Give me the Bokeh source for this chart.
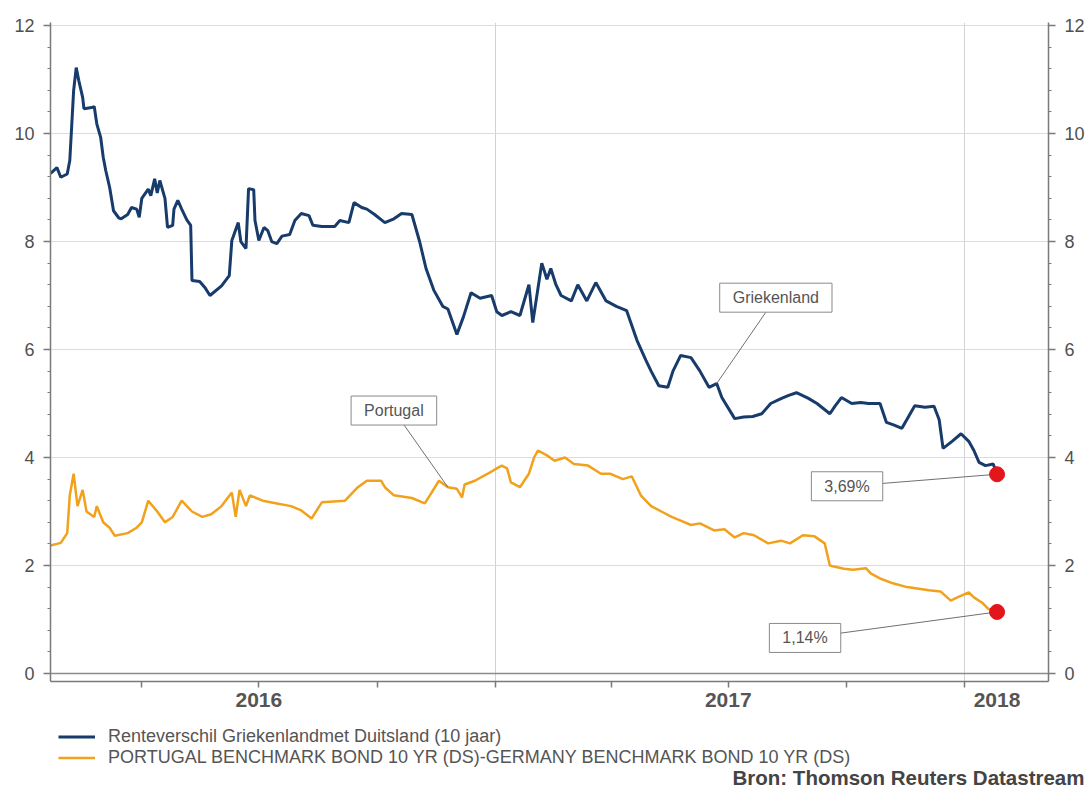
import pandas as pd
from bokeh.plotting import figure
from bokeh.layouts import column
from bokeh.models import (Range1d, FixedTicker, LinearAxis, Label, Legend,
                          LegendItem, Span)
from bokeh.embed import file_html
from bokeh.resources import INLINE

# ---------------- data ----------------
greece_dates = [
    "2016-01-21", "2016-01-26", "2016-01-29", "2016-02-03", "2016-02-05", "2016-02-08",
    "2016-02-10", "2016-02-12", "2016-02-15", "2016-02-16", "2016-02-22", "2016-02-24",
    "2016-02-26", "2016-02-29", "2016-03-02", "2016-03-04", "2016-03-07", "2016-03-10",
    "2016-03-14", "2016-03-16", "2016-03-21", "2016-03-24", "2016-03-28", "2016-03-30",
    "2016-04-01", "2016-04-06", "2016-04-08", "2016-04-11", "2016-04-13", "2016-04-15",
    "2016-04-19", "2016-04-21", "2016-04-25", "2016-04-26", "2016-04-29", "2016-05-02",
    "2016-05-06", "2016-05-09", "2016-05-10", "2016-05-16", "2016-05-20", "2016-05-24",
    "2016-06-02", "2016-06-08", "2016-06-10", "2016-06-15", "2016-06-17", "2016-06-21",
    "2016-06-23", "2016-06-27", "2016-06-28", "2016-07-01", "2016-07-05", "2016-07-08",
    "2016-07-11", "2016-07-15", "2016-07-19", "2016-07-25", "2016-07-29", "2016-08-03",
    "2016-08-09", "2016-08-12", "2016-08-19", "2016-08-29", "2016-09-02", "2016-09-09",
    "2016-09-13", "2016-09-19", "2016-09-23", "2016-09-29", "2016-10-07", "2016-10-14",
    "2016-10-20", "2016-10-28", "2016-11-03", "2016-11-08", "2016-11-14", "2016-11-21",
    "2016-11-25", "2016-12-02", "2016-12-07", "2016-12-13", "2016-12-20", "2016-12-29",
    "2017-01-02", "2017-01-06", "2017-01-13", "2017-01-20",
    "2017-01-27", "2017-01-30", "2017-02-06", "2017-02-10", "2017-02-13", "2017-02-17",
    "2017-02-21", "2017-03-01", "2017-03-06", "2017-03-13", "2017-03-20", "2017-03-28",
    "2017-04-05", "2017-04-13", "2017-04-21", "2017-04-28", "2017-05-02", "2017-05-08",
    "2017-05-15", "2017-05-19", "2017-05-25", "2017-06-02", "2017-06-09", "2017-06-16",
    "2017-06-22", "2017-06-26", "2017-07-06", "2017-07-13", "2017-07-20", "2017-07-27",
    "2017-08-03", "2017-08-11", "2017-08-17", "2017-08-23", "2017-09-01", "2017-09-08",
    "2017-09-18", "2017-09-22", "2017-09-27", "2017-10-05", "2017-10-12", "2017-10-18",
    "2017-10-27", "2017-11-01", "2017-11-07", "2017-11-13", "2017-11-23", "2017-12-01",
    "2017-12-08", "2017-12-12", "2017-12-15", "2017-12-22", "2017-12-29", "2018-01-04",
    "2018-01-08", "2018-01-12", "2018-01-17", "2018-01-23", "2018-01-26",
]
greece_values = [
    9.26, 9.37, 9.19, 9.25, 9.5, 10.8,
    11.22, 10.98, 10.67, 10.46, 10.48, 10.5,
    10.18, 9.93, 9.56, 9.31, 9.0, 8.57,
    8.44, 8.42, 8.5, 8.63, 8.6, 8.45,
    8.8, 8.97, 8.85, 9.16, 8.9, 9.13,
    8.8, 8.26, 8.3, 8.6, 8.76, 8.6,
    8.4, 8.3, 7.28, 7.26, 7.15, 7.0,
    7.18, 7.37, 8.02, 8.35, 8.0, 7.87,
    8.98, 8.96, 8.39, 8.02, 8.26, 8.2,
    8.0, 7.96, 8.1, 8.13, 8.39, 8.52,
    8.48, 8.3, 8.28, 8.28, 8.39, 8.35,
    8.72, 8.63, 8.6, 8.5, 8.35, 8.42,
    8.52, 8.5, 8.0, 7.5, 7.1, 6.8,
    6.75, 6.28, 6.6, 7.05, 6.95, 7.0,
    6.7, 6.63, 6.7, 6.63,
    7.2, 6.5, 7.6, 7.3, 7.5, 7.2,
    7.0, 6.9, 7.2, 6.9, 7.24, 6.9,
    6.8, 6.72, 6.17, 5.8, 5.6, 5.33,
    5.3, 5.6, 5.89, 5.85, 5.6, 5.3,
    5.37, 5.11, 4.72, 4.75, 4.76, 4.81,
    5.0, 5.09, 5.15, 5.2, 5.1, 5.0,
    4.81, 4.95, 5.11, 5.0, 5.02, 5.0,
    5.0, 4.65, 4.6, 4.54, 4.96, 4.93,
    4.95, 4.7, 4.17, 4.3, 4.44, 4.3,
    4.13, 3.91, 3.85, 3.88, 3.69,
]

portugal_dates = [
    "2016-01-21", "2016-01-26", "2016-01-29", "2016-02-03", "2016-02-05", "2016-02-08",
    "2016-02-11", "2016-02-15", "2016-02-18", "2016-02-24", "2016-02-26", "2016-03-02",
    "2016-03-07", "2016-03-11", "2016-03-21", "2016-03-28", "2016-04-01", "2016-04-06",
    "2016-04-13", "2016-04-19", "2016-04-25", "2016-05-02", "2016-05-10", "2016-05-18",
    "2016-05-25", "2016-06-02", "2016-06-10", "2016-06-13", "2016-06-16", "2016-06-21",
    "2016-06-24", "2016-07-04", "2016-07-15", "2016-07-26", "2016-08-03", "2016-08-11",
    "2016-08-19", "2016-09-06", "2016-09-16", "2016-09-23", "2016-10-04", "2016-10-07",
    "2016-10-14", "2016-10-28", "2016-11-07", "2016-11-11", "2016-11-18", "2016-11-25",
    "2016-12-02", "2016-12-06", "2016-12-08", "2016-12-16", "2016-12-26", "2017-01-02",
    "2017-01-06", "2017-01-10", "2017-01-13", "2017-01-20", "2017-01-27", "2017-01-31",
    "2017-02-03", "2017-02-10", "2017-02-16", "2017-02-24", "2017-03-03", "2017-03-14",
    "2017-03-24", "2017-03-31", "2017-04-10", "2017-04-17", "2017-04-24", "2017-05-02",
    "2017-05-10", "2017-05-18", "2017-05-25", "2017-06-02", "2017-06-09", "2017-06-20",
    "2017-06-28", "2017-07-06", "2017-07-13", "2017-07-21", "2017-08-01", "2017-08-11",
    "2017-08-18", "2017-08-28", "2017-09-06", "2017-09-14", "2017-09-18", "2017-09-21",
    "2017-09-29", "2017-10-06", "2017-10-16", "2017-10-20", "2017-10-27", "2017-11-06",
    "2017-11-17", "2017-12-04", "2017-12-13", "2017-12-21", "2017-12-27", "2018-01-04",
    "2018-01-08", "2018-01-15", "2018-01-19", "2018-01-26",
]
portugal_values = [
    2.37, 2.4, 2.42, 2.6, 3.3, 3.7,
    3.1, 3.4, 3.0, 2.9, 3.1, 2.8,
    2.7, 2.55, 2.6, 2.7, 2.8, 3.2,
    3.0, 2.8, 2.9, 3.2, 3.0, 2.9,
    2.95, 3.1, 3.35, 2.9, 3.4, 3.1,
    3.3, 3.2, 3.15, 3.1, 3.02, 2.87,
    3.17, 3.2, 3.45, 3.57, 3.57, 3.45,
    3.3, 3.25, 3.15, 3.3, 3.57, 3.45,
    3.42, 3.26, 3.5, 3.57, 3.7, 3.8,
    3.85, 3.8, 3.54, 3.45, 3.7, 4.0,
    4.13, 4.04, 3.94, 4.0, 3.88, 3.85,
    3.7, 3.7, 3.6, 3.65, 3.3, 3.1,
    3.0, 2.9, 2.83, 2.75, 2.78, 2.65,
    2.67, 2.52, 2.6, 2.56, 2.41, 2.46,
    2.41, 2.56, 2.54, 2.41, 2.0, 1.98,
    1.94, 1.92, 1.95, 1.85, 1.76, 1.67,
    1.6, 1.54, 1.52, 1.35, 1.42, 1.5,
    1.41, 1.3, 1.2, 1.14,
]

series_names = [
    "Renteverschil Griekenlandmet Duitsland (10 jaar)",
    "PORTUGAL BENCHMARK BOND 10 YR (DS)-GERMANY BENCHMARK BOND 10 YR (DS)",
]
callout_names = ["Griekenland", "Portugal"]
year_labels = ["2016", "2017", "2018"]
year_starts = ["2017-01-01", "2018-01-01"]
quarter_starts = ["2016-04-01", "2016-07-01", "2016-10-01", "2017-01-01",
                  "2017-04-01", "2017-07-01", "2017-10-01", "2018-01-01"]
y_ticks = [0, 2, 4, 6, 8, 10, 12]
y_minor_ticks = [0.4, 0.8, 1.2, 1.6, 2.4, 2.8, 3.2, 3.6, 4.4, 4.8, 5.2, 5.6,
                 6.4, 6.8, 7.2, 7.6, 8.4, 8.8, 9.2, 9.6, 10.4, 10.8, 11.2, 11.6]
source_text = "Bron: Thomson Reuters Datastream"

# ---------------- helpers / layout ----------------
FONT = "Liberation Sans"
BLUE = "#173b6a"
ORANGE = "#f2a11c"
RED = "#e3161b"


def ms(d):
    return pd.Timestamp(d).value / 1e6


FRAME_W, FRAME_H = 998, 659
x_start, x_end = ms("2016-01-21"), ms("2018-03-07")
y_start, y_end = -0.148, 12.056
px_per_ms = FRAME_W / (x_end - x_start)
px_per_unit = FRAME_H / (y_end - y_start)

g_x = pd.to_datetime(greece_dates)
p_x = pd.to_datetime(portugal_dates)

p = figure(frame_width=FRAME_W, frame_height=FRAME_H,
           x_axis_type="datetime",
           x_range=Range1d(x_start, x_end), y_range=Range1d(y_start, y_end),
           output_backend="svg", toolbar_location=None,
           min_border_left=50, min_border_right=42,
           min_border_top=22, min_border_bottom=44,
           background_fill_color="white", border_fill_color="white",
           outline_line_color=None, frame_align=False)

# grids
p.ygrid.ticker = FixedTicker(ticks=y_ticks)
p.ygrid.grid_line_color = "#dcdcdc"
p.xgrid.ticker = FixedTicker(ticks=[ms(d) for d in year_starts])
p.xgrid.grid_line_color = "#d2d2d2"
p.add_layout(Span(location=0, dimension="width", line_color="#8c8c8c",
                  line_width=1.5))

# x axis: labels centred in each year, quarter ticks as minor ticks
label_pos = [ms("2016-07-01"), ms("2017-07-01"), ms(greece_dates[-1])]
xa = p.xaxis[0]
xa.ticker = FixedTicker(ticks=label_pos,
                        minor_ticks=[ms(d) for d in quarter_starts])
xa.major_label_overrides = {v: t for v, t in zip(label_pos, year_labels)}
xa.major_tick_line_color = None
xa.major_tick_out = 6
xa.major_label_standoff = 5
xa.minor_tick_line_color = "#7a7a7a"
xa.minor_tick_line_width = 1.5
xa.minor_tick_out = 6
xa.minor_tick_in = 0
xa.axis_line_color = "#7a7a7a"
xa.axis_line_width = 1.5
xa.major_label_text_font = FONT
xa.major_label_text_font_size = "21px"
xa.major_label_text_font_style = "bold"
xa.major_label_text_color = "#555555"

# y axes (left and right)
ra = LinearAxis()
p.add_layout(ra, "right")
for ax in (p.yaxis[0], ra):
    ax.ticker = FixedTicker(ticks=y_ticks, minor_ticks=y_minor_ticks)
    ax.axis_line_color = "#7a7a7a"
    ax.axis_line_width = 1.5
    ax.major_tick_line_color = "#7a7a7a"
    ax.major_tick_line_width = 1.5
    ax.major_tick_out = 7
    ax.major_tick_in = 0
    ax.minor_tick_line_color = "#7a7a7a"
    ax.minor_tick_out = 3
    ax.minor_tick_in = 0
    ax.major_label_standoff = 9
    ax.major_label_text_font = FONT
    ax.major_label_text_font_size = "18px"
    ax.major_label_text_color = "#505050"

# series
r_g = p.line(g_x, greece_values, line_color=BLUE, line_width=3)
r_p = p.line(p_x, portugal_values, line_color=ORANGE, line_width=2.5)

# callout boxes for the two series
callout_series = [(greece_dates, greece_values, "2017-06-22", "2017-08-07", 6.96),
                  (portugal_dates, portugal_values, "2016-11-25", "2016-10-14", 4.87)]
pad = {"left": 13, "right": 13, "top": 6, "bottom": 6}
for name, (dates, vals, pt_date, box_date, box_y) in zip(callout_names, callout_series):
    pt_val = vals[dates.index(pt_date)]
    p.segment(x0=[ms(box_date)], y0=[box_y], x1=[ms(pt_date)], y1=[pt_val],
              line_color="#707070", line_width=1)
    p.add_layout(Label(x=ms(box_date), y=box_y, text=name, text_font=FONT,
                       text_font_size="16px", text_color="#555555",
                       text_align="center", text_baseline="middle",
                       background_fill_color="white", border_line_color="#8a8a8a",
                       border_line_width=1, padding=pad))

# end-value callouts with red dots
end_offsets = [(-150, -12), (-192, -26)]
for dates, vals, (dx, dy) in zip((greece_dates, portugal_dates),
                                 (greece_values, portugal_values), end_offsets):
    ex, ey = ms(dates[-1]), vals[-1]
    bx, by = ex + dx / px_per_ms, ey + dy / px_per_unit
    p.segment(x0=[bx], y0=[by], x1=[ex], y1=[ey], line_color="#707070", line_width=1)
    p.scatter([ex], [ey], size=15, fill_color=RED, line_color=RED)
    txt = ("%.2f%%" % ey).replace(".", ",")
    p.add_layout(Label(x=bx, y=by, text=txt, text_font=FONT,
                       text_font_size="16px", text_color="#555555",
                       text_align="center", text_baseline="middle",
                       background_fill_color="white", border_line_color="#8a8a8a",
                       border_line_width=1, padding=pad))

# ---------------- footer strip: legend and source ----------------
FOOT_W, FOOT_H = 1090, 71
f = figure(width=FOOT_W, height=FOOT_H, x_range=Range1d(0, FOOT_W),
           y_range=Range1d(0, FOOT_H), output_backend="svg", toolbar_location=None,
           x_axis_location=None, y_axis_location=None, min_border=0,
           background_fill_color="white", border_fill_color="white",
           outline_line_color=None, frame_align=False)
f.grid.visible = False
# one-point legend proxies (draw nothing) carry the series styles
k_g = f.line([g_x[0]], [greece_values[0]], line_color=BLUE, line_width=3)
k_p = f.line([p_x[0]], [portugal_values[0]], line_color=ORANGE, line_width=2.5)
legend = Legend(items=[LegendItem(label=series_names[0], renderers=[k_g]),
                       LegendItem(label=series_names[1], renderers=[k_p])],
                location=(58, 28), orientation="vertical",
                label_text_font=FONT, label_text_font_size="18px",
                label_text_color="#555555", glyph_width=37, glyph_height=21,
                label_height=21, label_standoff=13, spacing=0, padding=0,
                margin=0, border_line_color=None, background_fill_alpha=0)
f.add_layout(legend)
f.add_layout(Label(x=FOOT_W - 6, y=19, text=source_text, text_font=FONT,
                   text_font_size="20.5px", text_font_style="bold",
                   text_color="#444444", text_align="right", text_baseline="middle"))

open("out.html", "w").write(file_html(column(p, f, spacing=0), INLINE))
